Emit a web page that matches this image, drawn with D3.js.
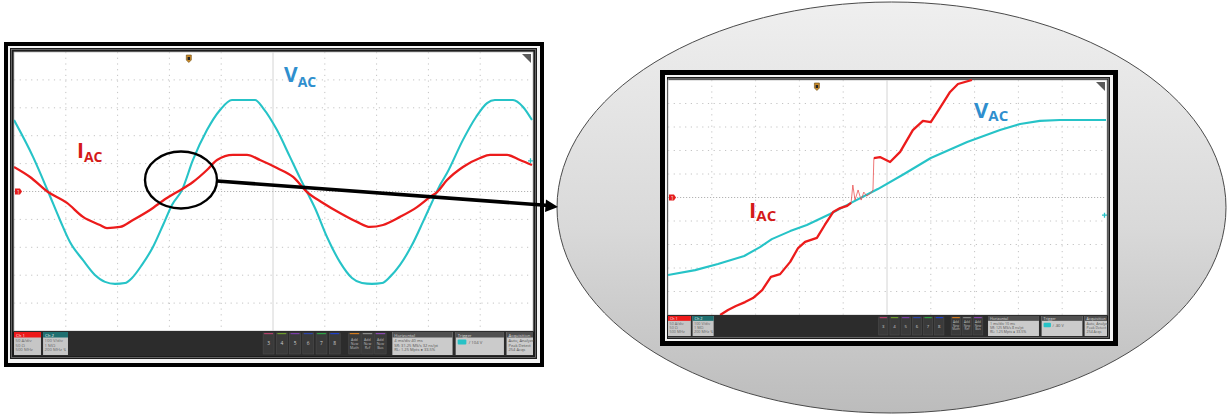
<!DOCTYPE html>
<html><head><meta charset="utf-8">
<script src="https://cdn.jsdelivr.net/npm/d3@7"></script>
<style>html,body{margin:0;padding:0;background:#fff;}svg{display:block}</style>
</head><body>
<svg id="chart" width="1230" height="416"></svg>
<script>
// ---------- DATA (time in ms, amplitude in divisions) ----------
const leftVac = [[0,2.56],[1.47,1.24],[2.63,0],[3.55,-1.02],[4.32,-1.81],[5.33,-2.46],[6.25,-2.99],[7.03,-3.24],[7.80,-3.31],[8.57,-3.28],[9.11,-3.10],[9.88,-2.63],[10.73,-1.99],[11.51,-1.20],[12.20,-0.48],[12.97,0.05],[13.82,1.13],[14.90,2.20],[15.91,2.92],[16.83,3.28],[17.84,3.28],[18.61,3.28],[19.23,2.99],[20.31,2.20],[21.31,1.24],[22.09,0.48],[22.63,-0.02],[23.24,-0.59],[24.17,-1.63],[25.17,-2.53],[26.10,-3.10],[26.87,-3.28],[27.64,-3.31],[28.42,-3.28],[29.03,-3.06],[29.81,-2.63],[30.73,-1.92],[31.58,-1.09],[32.36,-0.30],[32.90,0.23],[33.44,0.66],[34.67,1.85],[35.68,2.67],[36.53,3.17],[37.14,3.28],[38.53,3.28],[39.31,3.03],[40,2.56]];
const leftIac = [[0,0.88],[1.24,0.52],[2.63,-0.02],[4.09,-0.41],[5.33,-0.91],[6.64,-1.20],[7.18,-1.31],[8.19,-1.27],[9.19,-1.02],[10.50,-0.66],[11.81,-0.23],[12.59,-0.02],[13.82,0.34],[14.90,0.77],[15.68,1.13],[16.91,1.31],[17.99,1.31],[19.00,1.13],[20.31,0.84],[21.55,0.52],[22.63,-0.02],[23.86,-0.41],[25.17,-0.77],[26.49,-1.09],[27.49,-1.27],[28.49,-1.20],[29.81,-0.91],[31.12,-0.56],[32.12,-0.20],[32.67,-0.02],[33.44,0.41],[34.67,0.88],[35.99,1.20],[36.76,1.31],[38.07,1.31],[39.07,1.13],[40,0.95]];
const rightVac = [[0,-3.30],[0.62,-3.09],[1.14,-2.83],[1.74,-2.49],[2.10,-2.11],[2.37,-1.77],[2.79,-1.43],[3.17,-1.17],[3.70,-0.70],[4.18,-0.23],[4.79,0.36],[5.39,1.00],[6.00,1.68],[6.83,2.36],[7.58,2.87],[8.04,3.13],[8.49,3.26],[8.95,3.30],[10,3.30]];
const rightIac = [[1.19,-5.0],[1.37,-4.79],[1.55,-4.62],[1.76,-4.45],[1.94,-4.28],[2.15,-3.94],[2.35,-3.38],[2.56,-3.26],[2.79,-2.74],[2.97,-2.15],[3.13,-1.89],[3.40,-1.72],[3.58,-1.17],[3.77,-0.62],[3.93,-0.45],[4.09,-0.36],[4.18,-0.23],[4.22,0.53],[4.27,-0.11],[4.34,0.32],[4.41,-0.11],[4.47,0.23],[4.54,0.06],[4.63,0.19],[4.68,0.32],[4.70,1.68],[4.84,1.72],[5.07,1.51],[5.30,1.94],[5.59,2.87],[5.82,3.26],[6.00,3.21],[6.21,3.81],[6.44,4.49],[6.62,4.83],[6.94,5.0]];
const rightIacNoiseSpan = [4.18, 4.70];
const leftTimeDomain = [0, 40];
const rightTimeDomain = [0, 10];
const ampDomain = [-5, 5];
const ch1Lines = ["50 A/div", "50 \u03A9", "500 MHz"];
const ch2Lines = ["100 V/div", "1 M\u03A9", "200 MHz \u21AF"];
const chanButtons = ["3","4","5","6","7","8"];
const chanColors = ["#b0406a","#6c9a2c","#7a3ea8","#2f45a8","#2ea043","#2040c8"];
const addButtons = [["Add","New","Math"],["Add","New","Ref"],["Add","New","Bus"]];
const addColors = ["#d07a20","#8a8a8a","#8a4ab0"];
const leftHoriz = ["4 ms/div      40 ms", "SR: 31.25 MS/s  32 ns/pt", "RL: 1.25 Mpts  \u25CF 33.5%"];
const rightHoriz = ["1 ms/div      10 ms", "SR: 125 MS/s  8 ns/pt", "RL: 1.25 Mpts  \u25CF 33.5%"];
const leftTrig = "104 V", rightTrig = "-80 V";
const acqLines = ["Auto,  Analyze", "Peak Detect", "254 Acqs"];

// ---------- DRAW ----------
const svg = d3.select("#chart");
const defs = svg.append("defs");
const grad = defs.append("linearGradient").attr("id","ellGrad").attr("x1",0).attr("y1",0).attr("x2",0).attr("y2",1);
grad.append("stop").attr("offset","0%").attr("stop-color","#efefef");
grad.append("stop").attr("offset","55%").attr("stop-color","#d9d9d9");
grad.append("stop").attr("offset","100%").attr("stop-color","#bcbcbc");

svg.append("ellipse").attr("cx",891.5).attr("cy",207.5).attr("rx",334.5).attr("ry",205.5)
  .attr("fill","url(#ellGrad)").attr("stroke","#4a4a4a").attr("stroke-width",1);

const FONT = "'Liberation Sans Narrow','Open Sans',Arial,sans-serif";

function statusBar(g, x0, y0, w, h) {
  g.append("rect").attr("x",x0).attr("y",y0).attr("width",w).attr("height",h).attr("fill","#2c2c2c");
  const fs = Math.max(3.2, h*0.17);
  const hh = h*0.22;
  function badge(fx, fw, head, headColor, lines) {
    const bx = x0 + fx*w, bw = fw*w;
    g.append("rect").attr("x",bx).attr("y",y0+1).attr("width",bw).attr("height",h-2).attr("fill","#c6c6c6");
    g.append("rect").attr("x",bx).attr("y",y0+1).attr("width",bw).attr("height",hh).attr("fill",headColor);
    g.append("text").attr("x",bx+2).attr("y",y0+1+hh-1).attr("font-size",fs).attr("fill","#f0f0f0").attr("font-family",FONT).text(head);
    lines.forEach((t,i)=> g.append("text").attr("x",bx+1.5).attr("y",y0+1+hh+fs*(i+1)+0.5)
      .attr("font-size",fs).attr("fill","#666").attr("font-family",FONT).text(t));
  }
  badge(0, 0.052, "Ch 1", "#ee1a1a", ch1Lines);
  badge(0.056, 0.048, "Ch 2", "#1f6f70", ch2Lines);
  const bw = 0.021*w, pitch = 0.0255*w;
  chanButtons.forEach((b,i)=>{
    const bx = x0 + 0.480*w + i*pitch;
    g.append("rect").attr("x",bx).attr("y",y0+2).attr("width",bw).attr("height",h-4).attr("fill","#3a3a3a").attr("stroke","#4d4d4d").attr("stroke-width",0.6);
    g.append("rect").attr("x",bx+1).attr("y",y0+2).attr("width",bw-2).attr("height",1.2).attr("fill",chanColors[i]);
    g.append("text").attr("x",bx+bw/2).attr("y",y0+h/2+fs*0.45).attr("text-anchor","middle").attr("font-size",fs*1.15).attr("fill","#cfcfcf").attr("font-family",FONT).text(b);
  });
  const aw = 0.022*w, ap = 0.025*w;
  addButtons.forEach((b,i)=>{
    const bx = x0 + 0.645*w + i*ap;
    g.append("rect").attr("x",bx).attr("y",y0+2).attr("width",aw).attr("height",h-4).attr("fill","#3a3a3a").attr("stroke","#4d4d4d").attr("stroke-width",0.6);
    g.append("rect").attr("x",bx+1).attr("y",y0+2).attr("width",aw-2).attr("height",1.2).attr("fill",addColors[i]);
    b.forEach((t,j)=> g.append("text").attr("x",bx+aw/2).attr("y",y0+h*0.38+j*fs*0.95).attr("text-anchor","middle")
      .attr("font-size",fs*0.85).attr("fill","#bdbdbd").attr("font-family",FONT).text(t));
  });
  function infoBox(fx, fw, head, lines, trig) {
    const bx = x0 + fx*w, bw = fw*w;
    g.append("rect").attr("x",bx).attr("y",y0+1).attr("width",bw).attr("height",h-2).attr("fill","#cbcbcb");
    g.append("rect").attr("x",bx).attr("y",y0+1).attr("width",bw).attr("height",hh).attr("fill","#505050");
    g.append("text").attr("x",bx+2).attr("y",y0+1+hh-1).attr("font-size",fs).attr("fill","#ddd").attr("font-family",FONT).text(head);
    if (trig) {
      g.append("rect").attr("x",bx+2).attr("y",y0+hh+3).attr("width",bw*0.18).attr("height",fs*1.2).attr("rx",1).attr("fill","#27c2c6");
      g.append("text").attr("x",bx+bw*0.27).attr("y",y0+hh+3+fs).attr("font-size",fs).attr("fill","#555").attr("font-family",FONT).text("\u2215   " + trig);
    } else {
      lines.forEach((t,i)=> g.append("text").attr("x",bx+2).attr("y",y0+1+hh+fs*(i+1)+0.5)
        .attr("font-size",fs*0.95).attr("fill","#555").attr("font-family",FONT).text(t));
    }
  }
  return infoBox;
}

function drawScope(cfg) {
  const g = svg.append("g");
  const [ox0,oy0,ox1,oy1] = cfg.outer;
  g.append("rect").attr("x",ox0).attr("y",oy0).attr("width",ox1-ox0).attr("height",oy1-oy0).attr("fill","#000");
  const [wx0,wy0,wx1,wy1] = cfg.white;
  g.append("rect").attr("x",wx0).attr("y",wy0).attr("width",wx1-wx0).attr("height",wy1-wy0).attr("fill","#f4f4f4");
  const [fx0,fy0,fx1,fy1] = cfg.frame;
  g.append("rect").attr("x",fx0).attr("y",fy0).attr("width",fx1-fx0).attr("height",fy1-fy0).attr("fill","#1c1c1c");
  g.append("rect").attr("x",fx0+1.5).attr("y",fy0+1.5).attr("width",fx1-fx0-3).attr("height",fy1-fy0-3).attr("fill","none").attr("stroke","#777").attr("stroke-width",0.8);
  const [px0,py0,px1,py1] = cfg.plot;
  const x = d3.scaleLinear().domain(cfg.xDomain).range([px0,px1]);
  const y = d3.scaleLinear().domain(ampDomain).range([py1,py0]);
  g.append("rect").attr("x",px0).attr("y",py0).attr("width",px1-px0+1).attr("height",py1-py0).attr("fill","#fff")
    .attr("stroke","#b8b8b8").attr("stroke-width",0.8);
  const xdiv = (cfg.xDomain[1]-cfg.xDomain[0])/10;
  d3.range(1,10).forEach(i=>{
    const xv = x(cfg.xDomain[0]+i*xdiv);
    g.append("line").attr("x1",xv).attr("x2",xv).attr("y1",py0).attr("y2",py1)
      .attr("stroke", i===5 ? "#d4d4d4" : "#c4c4c4").attr("stroke-width",1)
      .attr("stroke-dasharray", i===5 ? null : "1.2,4.5");
    const yv = y(ampDomain[0]+i);
    g.append("line").attr("x1",px0).attr("x2",px1).attr("y1",yv).attr("y2",yv)
      .attr("stroke", i===5 ? "#b4b4b4" : "#c4c4c4").attr("stroke-width",1)
      .attr("stroke-dasharray", i===5 ? "1.2,1.8" : "1.2,4.5");
  });
  const cid = "clip"+cfg.id;
  defs.append("clipPath").attr("id",cid).append("rect").attr("x",px0).attr("y",py0-1).attr("width",px1-px0+1).attr("height",py1-py0+1);
  const tg = g.append("g").attr("clip-path",`url(#${cid})`);
  const line = d3.line().x(d=>x(d[0])).y(d=>y(d[1])).curve(cfg.smooth ? d3.curveMonotoneX : d3.curveLinear);
  tg.append("path").datum(cfg.vac).attr("d",line).attr("fill","none").attr("stroke","#26c3c7").attr("stroke-width",2.1).attr("stroke-linejoin","round");
  if (cfg.noiseSpan) {
    const [a,b] = cfg.noiseSpan;
    tg.append("path").datum(cfg.iac.filter(d=>d[0]>=a && d[0]<=b)).attr("d",line).attr("fill","none")
      .attr("stroke","#e84a4a").attr("stroke-width",1).attr("stroke-opacity",0.75);
    tg.append("path").datum(cfg.iac.filter(d=>d[0]<=a)).attr("d",line).attr("fill","none").attr("stroke","#ec1b1b").attr("stroke-width",2.3).attr("stroke-linejoin","round");
    tg.append("path").datum(cfg.iac.filter(d=>d[0]>=b)).attr("d",line).attr("fill","none").attr("stroke","#ec1b1b").attr("stroke-width",2.3).attr("stroke-linejoin","round");
  } else {
    tg.append("path").datum(cfg.iac).attr("d",line).attr("fill","none").attr("stroke","#ec1b1b").attr("stroke-width",2.3).attr("stroke-linejoin","round");
  }
  const tx = x(cfg.trigT);
  g.append("path").attr("d",`M${tx-2.5},${py0+3}h5v5l-2.5,2.5l-2.5,-2.5z`).attr("fill","#c98a2a").attr("stroke","#6a4a12").attr("stroke-width",0.6);
  g.append("rect").attr("x",tx-1.2).attr("y",py0+5).attr("width",2.4).attr("height",3).attr("fill","#222");
  const y0v = y(0);
  g.append("path").attr("d",`M${px0+1},${y0v-3}h5l2,3l-2,3h-5z`).attr("fill","#e41c1c");
  g.append("text").attr("x",px0+3).attr("y",y0v+2).attr("font-size",4.5).attr("fill","#fff").attr("font-family",FONT).text("1");
  g.append("path").attr("d",`M${px1-10},${py0+2}H${px1-1}V${py0+11}Z`).attr("fill","#5a5a5a");
  if (cfg.ch2Mark !== undefined) {
    const my = y(cfg.ch2Mark);
    g.append("path").attr("d",`M${px1-4},${my}h5M${px1-1.5},${my-2.5}v5`).attr("stroke","#26c3c7").attr("stroke-width",1.3);
  }
  const info = statusBar(g, px0, py1, px1-px0+1, cfg.statusH);
  info(0.729, 0.116, "Horizontal", cfg.horiz);
  info(0.851, 0.093, "Trigger", null, cfg.trig);
  info(0.949, 0.051, "Acquisition", acqLines);
  return {x,y};
}

drawScope({id:"R", outer:[660,70,1118,346], white:[665,75,1113,341], frame:[667,77,1110,339],
  plot:[668,80,1106,315], statusH:22, xDomain:rightTimeDomain, vac:rightVac, iac:rightIac, smooth:false,
  noiseSpan:rightIacNoiseSpan, trigT:3.40, ch2Mark:-0.75, horiz:rightHoriz, trig:rightTrig});
drawScope({id:"L", outer:[4,42,544,367], white:[8,46,540,363], frame:[10,48,537,359],
  plot:[14,52,532,331], statusH:25, xDomain:leftTimeDomain, vac:leftVac, iac:leftIac, smooth:true,
  trigT:13.5, ch2Mark:1.1, horiz:leftHoriz, trig:leftTrig});

function label(xp, yp, main, sub, color, fsMain, fsSub, dy) {
  const t = svg.append("text").attr("x",xp).attr("y",yp).attr("fill",color)
    .attr("font-family",FONT).attr("font-weight","bold");
  t.append("tspan").attr("font-size",fsMain).text(main);
  t.append("tspan").attr("font-size",fsSub).attr("dy",dy).text(sub);
}
label(77, 158, "I", "AC", "#d41a1a", 21, 14, 4);
label(284, 82, "V", "AC", "#2f8fce", 21, 14, 5);
label(749, 218, "I", "AC", "#d41a1a", 22, 15, 3);
label(974, 118, "V", "AC", "#2f8fce", 22, 15, 3);

svg.append("ellipse").attr("cx",181).attr("cy",180).attr("rx",36).attr("ry",28.5)
  .attr("fill","none").attr("stroke","#000").attr("stroke-width",2.4);
svg.append("line").attr("x1",217).attr("y1",181).attr("x2",549).attr("y2",205.5)
  .attr("stroke","#000").attr("stroke-width",3.6);
svg.append("path").attr("d","M558,207 L546,199.5 L545,212 Z").attr("fill","#000");
</script>
</body></html>
